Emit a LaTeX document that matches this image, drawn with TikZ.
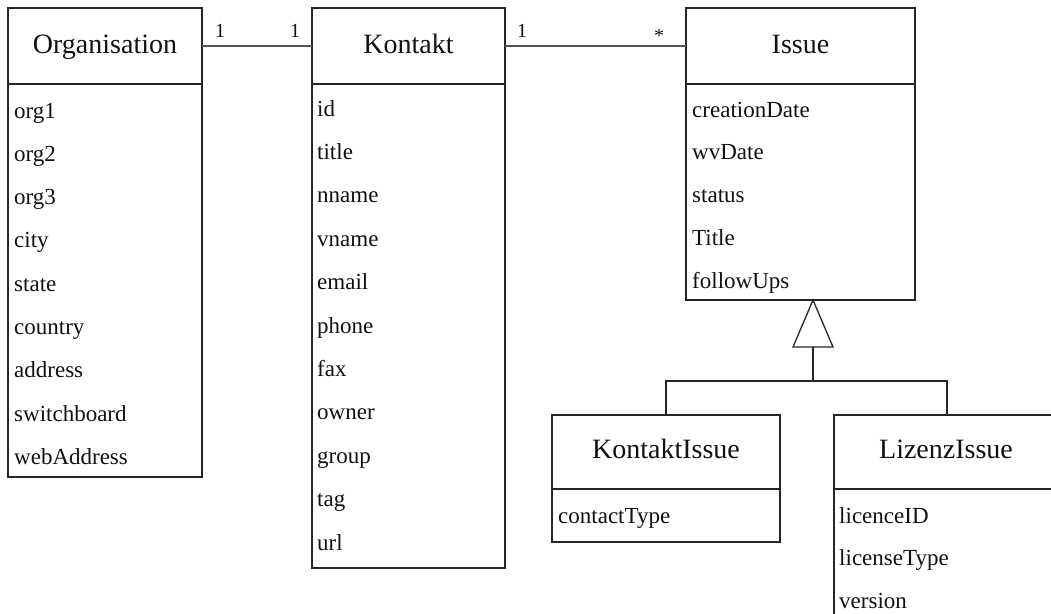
\documentclass[tikz,border=0pt]{standalone}
\usepackage{fontspec}
\setmainfont{Liberation Serif}
\definecolor{linec}{HTML}{262626}
\definecolor{connc}{HTML}{555555}
\definecolor{textc}{HTML}{111111}
\begin{document}
\begin{tikzpicture}[x=1pt,y=-1pt,
  box/.style={draw=linec, line width=1.3pt, anchor=north west, inner sep=0pt, outer sep=0pt, fill=white},
  title/.style={font=\fontsize{28}{30}\selectfont, text=textc, anchor=base, inner sep=0pt},
  attr/.style={font=\fontsize{23}{26}\selectfont, text=textc, anchor=base west, inner sep=0pt},
  mult/.style={font=\fontsize{20}{22}\selectfont, text=textc, anchor=base, inner sep=0pt},
  conn/.style={draw=connc, line width=1.5pt},
  gen/.style={draw=linec, line width=1.3pt}]
\useasboundingbox (0,0) rectangle (1051,613);
\clip (0,0) rectangle (1051,613);
\fill[white] (0,0) rectangle (1051,613);

% Organisation
\node[box, minimum width=194pt, minimum height=76pt] (orgH) at (8,8) {};
\node[box, minimum width=194pt, minimum height=393pt] (orgB) at (8,84) {};
\node[title] (orgT) at (105,53) {Organisation};
\foreach \t [count=\i from 0] in {org1,org2,org3,city,state,country,address,switchboard,webAddress}
  \node[attr] (orgA\i) at (14,118+43.3*\i) {\t};

% Kontakt
\node[box, minimum width=193pt, minimum height=76pt] (konH) at (312,8) {};
\node[box, minimum width=193pt, minimum height=484pt] (konB) at (312,84) {};
\node[title] (konT) at (408.5,53) {Kontakt};
\foreach \t [count=\i from 0] in {id,title,nname,vname,email,phone,fax,owner,group,tag,url}
  \node[attr] (konA\i) at (317,116+43.4*\i) {\t};

% Issue
\node[box, minimum width=229pt, minimum height=76pt] (issH) at (686,8) {};
\node[box, minimum width=229pt, minimum height=216pt] (issB) at (686,84) {};
\node[title] (issT) at (800.5,53) {Issue};
\foreach \t [count=\i from 0] in {creationDate,wvDate,status,Title,followUps}
  \node[attr] (issA\i) at (692,117+42.8*\i) {\t};

% KontaktIssue
\node[box, minimum width=228pt, minimum height=74pt] (kiH) at (552,415) {};
\node[box, minimum width=228pt, minimum height=53pt] (kiB) at (552,489) {};
\node[title] (kiT) at (666,458) {KontaktIssue};
\node[attr] (kiA0) at (558,523) {contactType};

% LizenzIssue
\node[box, minimum width=224pt, minimum height=74pt] (liH) at (834,415) {};
\node[box, minimum width=224pt, minimum height=160pt] (liB) at (834,489) {};
\node[title] (liT) at (946,458) {LizenzIssue};
\foreach \t/\y [count=\i from 0] in {licenceID/523,licenseType/565,version/608}
  \node[attr] (liA\i) at (839,\y) {\t};

% associations
\draw[conn] (orgH.east) -- (konH.east -| konH.west);
\draw[conn] (konH.east) -- (issH.west);
\node[mult] (m1) at (220,37) {1};
\node[mult] (m2) at (295,37) {1};
\node[mult] (m3) at (522,37) {1};
\node[mult] (m4) at (659,42) {*};

% generalization
\coordinate (apex) at (813,300);
\coordinate (tribase) at (813,347);
\coordinate (junction) at (813,381);
\draw[gen, fill=white] (apex) -- (793,347) -- (833,347) -- cycle;
\draw[gen] (tribase) -- (junction);
\draw[gen] (junction) -| (kiH.north);
\draw[gen] (junction) -| (947,415);
\end{tikzpicture}
\end{document}
